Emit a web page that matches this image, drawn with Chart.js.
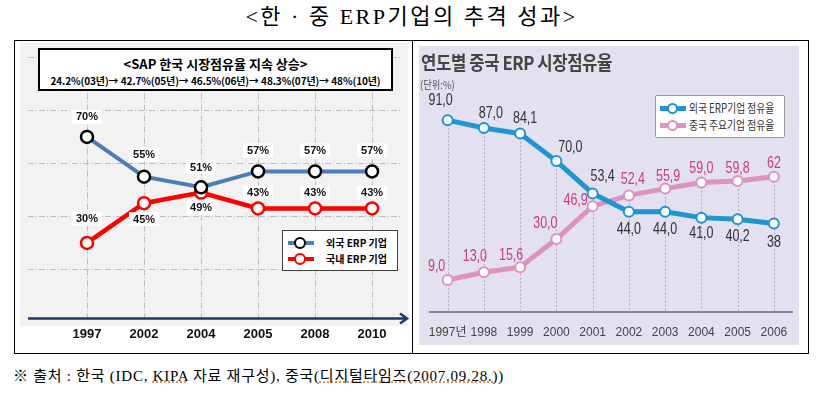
<!DOCTYPE html>
<html>
<head>
<meta charset="utf-8">
<script src="https://cdn.jsdelivr.net/npm/chart.js@4.4.1/dist/chart.umd.min.js"></script>
<style>
  body { margin:0; width:823px; height:394px; background:#fff; position:relative; overflow:hidden;
         font-family:'Noto Sans CJK KR', sans-serif; }
  .abs { position:absolute; }
  #title { left:0; width:823px; top:3px; text-align:center; font-family:'Liberation Serif','Noto Sans CJK KR',serif;
           font-size:22px; letter-spacing:2.5px; color:#000; line-height:28px; }
  #frame { left:14px; top:40px; width:793px; height:312px; border:1px solid #000; }
  #divider { left:412px; top:40px; width:1px; height:313px; background:#000; }
  #leftBg { left:20px; top:43px; width:388px; height:283px; background:#f2f2f2; }
  #rightBg { left:419px; top:46px; width:380px; height:299px; background:#e3e0ef; }
  #sapBox { left:38px; top:48px; width:351px; height:39px; border:2px solid #000; background:#fff; text-align:center; }
  #sapBox .t1 { font-weight:bold; font-size:13px; line-height:15px; margin-top:6px; }
  #sapBox .t2 { font-weight:bold; font-size:10px; letter-spacing:-0.1px; line-height:14px; margin-top:3px; white-space:nowrap; }
  #legL { left:282px; top:230px; width:114px; height:39px; border:1px solid #404040; background:#fff; }
  .row { position:absolute; left:0; width:100%; height:16px; }
  .ln { position:absolute; height:4px; top:6px; }
  .dot { position:absolute; border-radius:50%; background:#fff; box-sizing:border-box; }
  .lt { position:absolute; font-weight:bold; font-size:10px; line-height:16px; white-space:nowrap; }
  #legR { left:655px; top:95px; width:128px; height:41px; border:1px solid #9a9a9a; border-radius:2px; background:#fff; }
  .rt { position:absolute; font-size:12.5px; line-height:16px; color:#333; white-space:nowrap; transform:scaleX(0.78); transform-origin:left center; }
  #rTitle { left:421px; top:49px; font-weight:bold; font-size:19px; line-height:26px; color:#444; white-space:nowrap;
            transform:scaleX(0.88); transform-origin:left center; letter-spacing:-0.5px; }
  #rUnit { left:420px; top:76px; font-size:11px; line-height:16px; color:#555; white-space:nowrap; transform:scaleX(0.85); transform-origin:left center; }
  #foot { left:13px; top:366px; font-family:'Liberation Serif','Noto Sans CJK KR',serif; font-size:15px; letter-spacing:0.75px; line-height:20px; white-space:nowrap; color:#000; }
  .sq { text-decoration:underline dotted #e07020; }
</style>
</head>
<body>
<div id="title" class="abs">&lt;한 · 중 ERP기업의 추격 성과&gt;</div>
<div id="frame" class="abs"></div>
<div id="divider" class="abs"></div>
<div id="leftBg" class="abs"></div>
<div id="rightBg" class="abs"></div>
<canvas id="leftChart" class="abs" style="left:15px;top:41px" width="396" height="311"></canvas>
<canvas id="rightChart" class="abs" style="left:419px;top:46px" width="380" height="299"></canvas>

<div id="sapBox" class="abs">
  <div class="t1">&lt;SAP 한국 시장점유율 지속 상승&gt;</div>
  <div class="t2">24.2%(03년)→ 42.7%(05년)→ 46.5%(06년)→ 48.3%(07년)→ 48%(10년)</div>
</div>

<div id="legL" class="abs">
  <div class="row" style="top:4px">
    <div class="ln" style="left:5px;width:26px;background:#4a7ebb"></div>
    <div class="dot" style="left:11px;top:2px;width:12px;height:12px;border:2.5px solid #000"></div>
    <div class="lt" style="left:43px">외국 ERP 기업</div>
  </div>
  <div class="row" style="top:20px">
    <div class="ln" style="left:5px;width:26px;background:#ff0000"></div>
    <div class="dot" style="left:11px;top:2px;width:12px;height:12px;border:2.5px solid #ff0000"></div>
    <div class="lt" style="left:43px">국내 ERP 기업</div>
  </div>
</div>

<div id="rTitle" class="abs">연도별 중국 ERP 시장점유율</div>
<div id="rUnit" class="abs">(단위:%)</div>
<div id="legR" class="abs">
  <div class="row" style="top:4px">
    <div class="ln" style="left:4px;width:26px;background:#1e96d2;height:5px;top:6px"></div>
    <div class="dot" style="left:11px;top:3px;width:11px;height:11px;border:2px solid #1e96d2"></div>
    <div class="rt" style="left:33px">외국 ERP기업 점유율</div>
  </div>
  <div class="row" style="top:21px">
    <div class="ln" style="left:4px;width:26px;background:#dc93bd;height:5px;top:6px"></div>
    <div class="dot" style="left:11px;top:3px;width:11px;height:11px;border:2px solid #dc93bd"></div>
    <div class="rt" style="left:33px">중국 주요기업 점유율</div>
  </div>
</div>

<div id="foot" class="abs">※ 출처 : 한국 (IDC, <span class="sq">KIPA</span> 자료 재구성), 중국(<span class="sq">디지털타임즈(2007.09.28.)</span>)</div>

<script>
// Korea (left)
const leftYears = ['1997', '2002', '2004', '2005', '2008', '2010'];
const leftForeign = [70, 55, 51, 57, 57, 57];
const leftDomestic = [30, 45, 49, 43, 43, 43];

// China (right)
const rightYears = ['1997년', '1998', '1999', '2000', '2001', '2002', '2003', '2004', '2005', '2006'];
const rightForeign = [91.0, 87.0, 84.1, 70.0, 53.4, 44.0, 44.0, 41.0, 40.2, 38];
const rightChina = [9.0, 13.0, 15.6, 30.0, 46.9, 52.4, 55.9, 59.0, 59.8, 62];

// label placement (dx, dy from the point)
const leftForeignOff = [[0,-20],[0,-22],[0,-20],[0,-21],[0,-21],[0,-21]];
const leftDomesticOff = [[0,-24],[0,16],[0,15],[0,-16],[0,-16],[0,-16]];
const rightForeignOff = [[-7,-20],[7,-14],[5,-15],[14,-13],[10,-17],[0,18],[0,18],[0,16],[0,17],[0,19]];
const rightChinaOff = [[-11,-13],[-9,-16],[-9,-12],[-11,-15],[-17,-6],[4,-16],[3,-12],[0,-14],[0,-12],[0,-13]];

function fmtRight(v, i, arr) {
  return i === arr.length - 1 ? String(v) : v.toFixed(1).replace('.', ',');
}

// ---- left chart plugins
const leftDecor = {
  id: 'leftDecor',
  afterDraw(chart) {
    const ctx = chart.ctx, ca = chart.chartArea;
    // axis arrow
    const y = ca.bottom - 4;
    ctx.save();
    ctx.strokeStyle = '#1f3864';
    ctx.lineWidth = 2.5;
    ctx.beginPath();
    ctx.moveTo(ca.left, y);
    ctx.lineTo(ca.right + 6, y);
    ctx.stroke();
    ctx.beginPath();
    ctx.moveTo(ca.right, y - 5);
    ctx.lineTo(ca.right + 7, y);
    ctx.lineTo(ca.right, y + 5);
    ctx.stroke();
    // value labels
    ctx.font = 'bold 11px "Liberation Sans", Arial, sans-serif';
    ctx.textAlign = 'center';
    ctx.textBaseline = 'middle';
    const offs = [leftForeignOff, leftDomesticOff];
    chart.data.datasets.forEach((ds, di) => {
      chart.getDatasetMeta(di).data.forEach((pt, i) => {
        const txt = ds.data[i].y + '%';
        const x = pt.x + offs[di][i][0], yy = pt.y + offs[di][i][1];
        const w = ctx.measureText(txt).width + 8;
        ctx.fillStyle = '#fff';
        ctx.fillRect(x - w / 2, yy - 7, w, 14);
        ctx.fillStyle = '#111';
        ctx.fillText(txt, x, yy + 0.5);
      });
    });
    ctx.restore();
  }
};

new Chart(document.getElementById('leftChart').getContext('2d'), {
  type: 'line',
  data: {
    datasets: [
      {
        label: '외국 ERP 기업',
        data: leftForeign.map((v, i) => ({ x: i, y: v })),
        borderColor: '#4a7ebb',
        borderWidth: 4,
        pointRadius: 6,
        pointBorderWidth: 2.5,
        pointBorderColor: '#000',
        pointBackgroundColor: '#fff'
      },
      {
        label: '국내 ERP 기업',
        data: leftDomestic.map((v, i) => ({ x: i, y: v })),
        borderColor: '#ff0000',
        borderWidth: 4.5,
        pointRadius: 6,
        pointBorderWidth: 2.5,
        pointBorderColor: '#ff0000',
        pointBackgroundColor: '#fff'
      }
    ]
  },
  options: {
    responsive: false,
    animation: false,
    layout: { padding: { left: 13, right: 11, top: 2, bottom: 6 } },
    plugins: { legend: { display: false }, tooltip: { enabled: false } },
    scales: {
      x: {
        type: 'linear',
        min: -1.035,
        max: 5.49,
        afterBuildTicks: s => { s.ticks = leftYears.map((_, i) => ({ value: i })); },
        ticks: {
          callback: v => leftYears[v],
          font: { family: '"Liberation Sans", Arial, sans-serif', size: 13, weight: 'bold' },
          color: '#111',
          padding: 4,
          maxRotation: 0,
          autoSkip: false
        },
        grid: { color: '#bdbdbd', drawTicks: false },
        border: { display: false, dash: [6, 2, 1, 2] }
      },
      y: {
        min: 0,
        max: 103,
        ticks: { display: false, stepSize: 20, includeBounds: false },
        grid: { drawTicks: false, color: c => c.tick && c.tick.value === 0 ? 'rgba(0,0,0,0)' : '#bdbdbd' },
        border: { display: false, dash: [6, 2, 1, 2] }
      }
    }
  },
  plugins: [leftDecor]
});

// ---- right chart plugins
const dropLines = {
  id: 'dropLines',
  beforeDatasetsDraw(chart) {
    const ctx = chart.ctx, ca = chart.chartArea;
    const m0 = chart.getDatasetMeta(0).data, m1 = chart.getDatasetMeta(1).data;
    ctx.save();
    ctx.strokeStyle = '#b9a2c6';
    ctx.lineWidth = 1;
    ctx.setLineDash([2, 2]);
    m0.forEach((p, i) => {
      const top = Math.min(p.y, m1[i].y);
      ctx.beginPath();
      ctx.moveTo(Math.round(p.x) + 0.5, top);
      ctx.lineTo(Math.round(p.x) + 0.5, ca.bottom);
      ctx.stroke();
    });
    ctx.restore();
  },
  afterDraw(chart) {
    const ctx = chart.ctx;
    ctx.save();
    ctx.font = '16px "Liberation Sans", Arial, sans-serif';
    ctx.textAlign = 'center';
    ctx.textBaseline = 'middle';
    const series = [[rightForeign, rightForeignOff, '#333333'], [rightChina, rightChinaOff, '#c83d7e']];
    series.forEach(([vals, offs, col], di) => {
      chart.getDatasetMeta(di).data.forEach((pt, i) => {
        ctx.save();
        ctx.translate(pt.x + offs[i][0], pt.y + offs[i][1]);
        ctx.scale(0.78, 1);
        ctx.fillStyle = col;
        ctx.fillText(fmtRight(vals[i], i, vals), 0, 0);
        ctx.restore();
      });
    });
    ctx.restore();
  }
};

new Chart(document.getElementById('rightChart').getContext('2d'), {
  type: 'line',
  data: {
    labels: rightYears,
    datasets: [
      {
        label: '외국 ERP기업 점유율',
        data: rightForeign,
        borderColor: '#1e96d2',
        borderWidth: 5,
        pointRadius: 5,
        pointBorderWidth: 2,
        pointBorderColor: '#1e96d2',
        pointBackgroundColor: '#fff'
      },
      {
        label: '중국 주요기업 점유율',
        data: rightChina,
        borderColor: '#dc93bd',
        borderWidth: 5,
        pointRadius: 5,
        pointBorderWidth: 2,
        pointBorderColor: '#dc93bd',
        pointBackgroundColor: '#fff'
      }
    ]
  },
  options: {
    responsive: false,
    animation: false,
    layout: { padding: { left: 10.5, right: 0.5, top: 56.6, bottom: 0.6 } },
    plugins: { legend: { display: false }, tooltip: { enabled: false } },
    scales: {
      x: {
        offset: true,
        grid: { display: false },
        border: { display: true, color: '#8a8a8a', width: 2 },
        ticks: {
          font: { family: '"Liberation Sans Narrow", "Liberation Sans", "Noto Sans CJK KR", sans-serif', size: 12 },
          color: '#444',
          padding: 5,
          maxRotation: 0,
          autoSkip: false
        }
      },
      y: { display: false, min: -7.4, max: 100 }
    }
  },
  plugins: [dropLines]
});
</script>
</body>
</html>
